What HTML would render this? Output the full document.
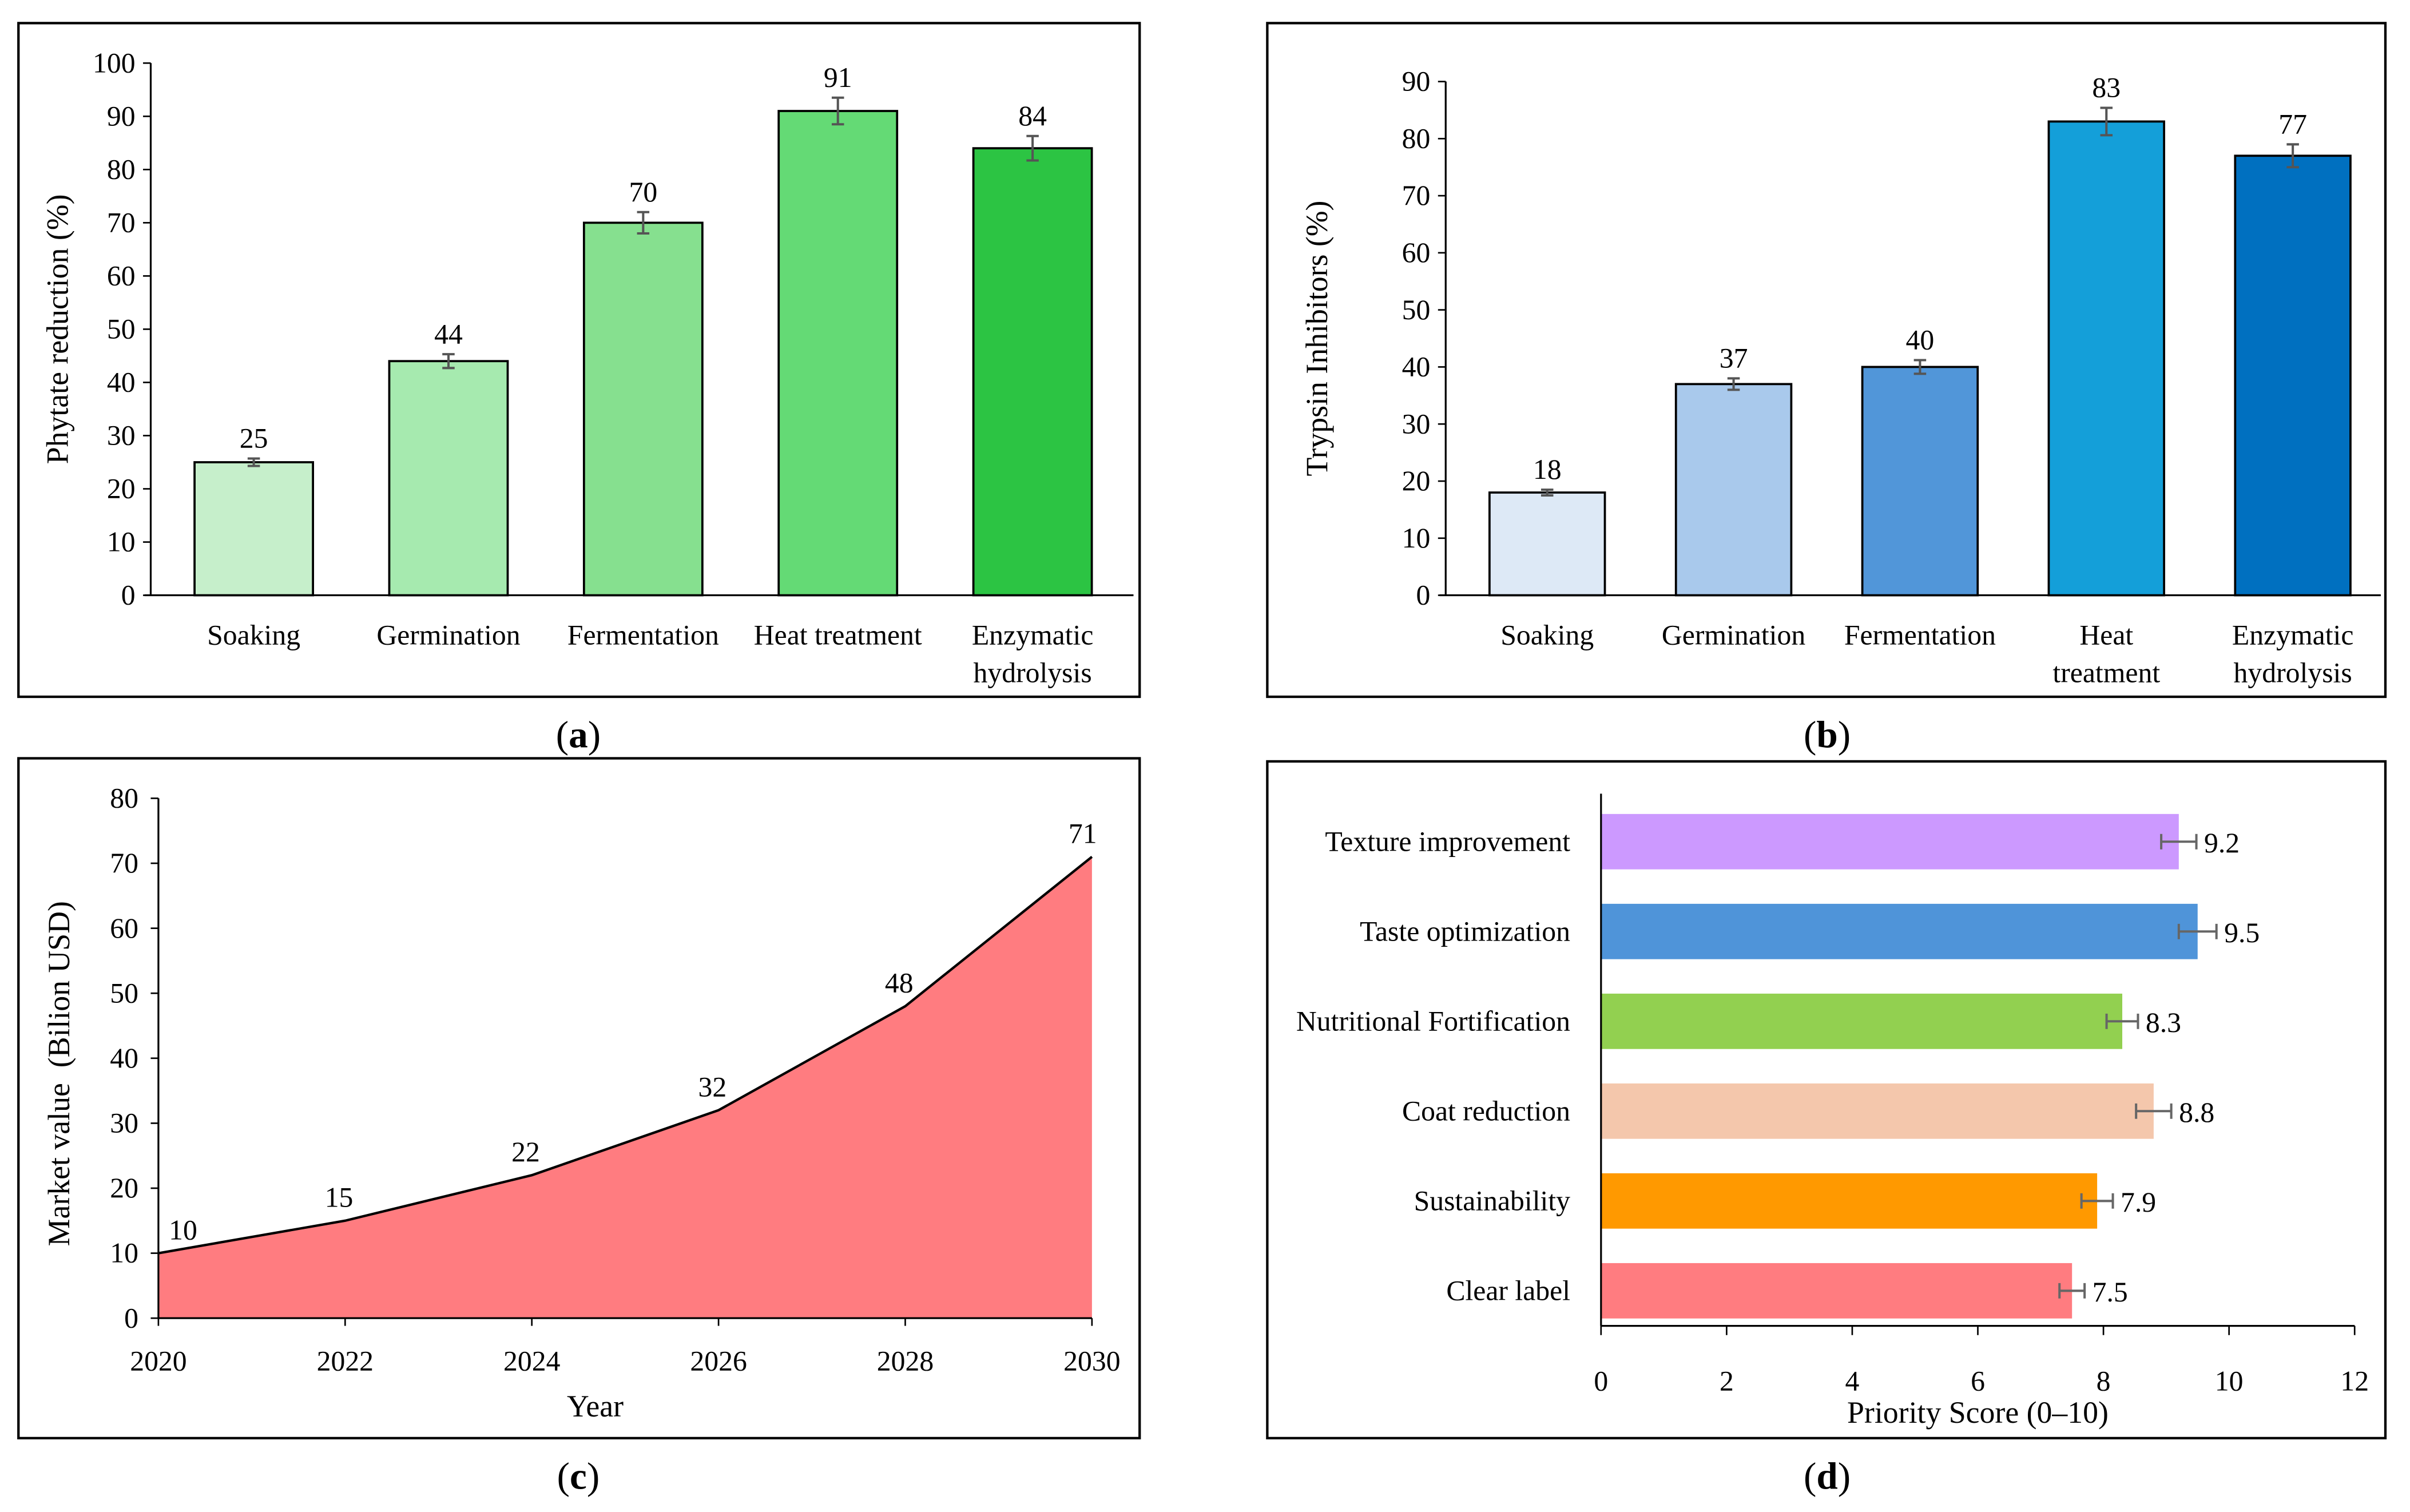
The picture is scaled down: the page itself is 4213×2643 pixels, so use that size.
<!DOCTYPE html>
<html><head><meta charset="utf-8">
<style>
html,body{margin:0;padding:0;background:#fff;}
svg{display:block;}
text{font-family:"Liberation Serif",serif;fill:#000;}
</style></head>
<body>
<svg id="fig" xmlns="http://www.w3.org/2000/svg" width="4213" height="2643" viewBox="0 0 1567 983">
  <rect x="0" y="0" width="1567" height="983" fill="#fff"/>
  <g id="pa"></g>
  <g id="pb"></g>
  <g id="pc"></g>
  <g id="pd"></g>
</svg>
<script>
// Panel a data
const catsA = ["Soaking","Germination","Fermentation","Heat treatment","Enzymatic|hydrolysis"];
const valsA = [25,44,70,91,84];
const errA = [0.7,1.3,2,2.5,2.3];
const ticksA = [0,10,20,30,40,50,60,70,80,90,100];
// Panel b data
const catsB = ["Soaking","Germination","Fermentation","Heat|treatment","Enzymatic|hydrolysis"];
const valsB = [18,37,40,83,77];
const errB = [0.5,1,1.2,2.4,2];
const ticksB = [0,10,20,30,40,50,60,70,80,90];
// Panel c data
const yearsC = [2020,2022,2024,2026,2028,2030];
const valsC = [10,15,22,32,48,71];
const ticksC = [0,10,20,30,40,50,60,70,80];
// Panel d data
const catsD = ["Texture improvement","Taste optimization","Nutritional Fortification","Coat reduction","Sustainability","Clear label"];
const valsD = [9.2,9.5,8.3,8.8,7.9,7.5];
const errD = [0.28,0.3,0.25,0.28,0.25,0.2];
const ticksD = [0,2,4,6,8,10,12];

const FS=18.5, TS=20;
const NS="http://www.w3.org/2000/svg";
function mk(parent,tag,attrs,txt){const e=document.createElementNS(NS,tag);for(const k in attrs)e.setAttribute(k,attrs[k]);if(txt!==undefined)e.textContent=txt;parent.appendChild(e);return e;}

function frame(g,x,y,w,h,cap,cx,cy){
  const r=mk(g,'rect',{x:x,y:y,width:w,height:h,fill:'none',stroke:'#000','stroke-width':1.6});
  
  
  const t=mk(g,'text',{x:cx,y:cy,'font-size':25,'text-anchor':'middle'},'');
  
  
  mk(t,'tspan',{},'(');mk(t,'tspan',{'font-weight':'bold'},cap);mk(t,'tspan',{},')');
}

function barChart(g,o){
  const y=v=>o.y0-(v/o.ymax)*(o.y0-o.ytop);
  const axis=mk(g,'line',{x1:o.x0,y1:o.ytop,x2:o.x0,y2:o.y0,stroke:'#000','stroke-width':1.2});
  
  
  const xa=mk(g,'line',{x1:o.x0-4,y1:o.y0,x2:o.axisEnd,y2:o.y0,stroke:'#000','stroke-width':1.2});
  
  
  o.ticks.forEach(t=>{
    mk(g,'line',{x1:o.x0-5,y1:y(t),x2:o.x0,y2:y(t),stroke:'#000','stroke-width':1});
    const tl=mk(g,'text',{x:o.x0-10,y:y(t)+6,'font-size':FS,'text-anchor':'end'},t);
    
    
  });
  const bw=(o.x1-o.x0)/o.cats.length;
  o.vals.forEach((v,i)=>{
    const cx=o.x0+bw*(i+0.5)+o.shift;
    const b=mk(g,'rect',{x:cx-o.barW/2,y:y(v),width:o.barW,height:o.y0-y(v),fill:o.colors[i],stroke:'#000','stroke-width':1.4});
    
    
    const e=o.errs[i];
    const ep=mk(g,'path',{d:`M${cx} ${y(v+e)}V${y(v-e)}M${cx-4} ${y(v+e)}H${cx+4}M${cx-4} ${y(v-e)}H${cx+4}`,stroke:'#555','stroke-width':1.5,fill:'none'});
    
    
    const vl=mk(g,'text',{x:cx,y:y(v+e)-7,'font-size':FS,'text-anchor':'middle'},v);
    
    
    const lines=o.cats[i].split('|');
    lines.forEach((ln,j)=>{
      const cl=mk(g,'text',{x:cx,y:419+j*24.5,'font-size':FS,'text-anchor':'middle'},ln);
      
      
    });
  });
  const tt=mk(g,'text',{x:0,y:0,'font-size':TS,'text-anchor':'middle',transform:`translate(${o.titleX},${(o.ytop+o.y0)/2}) rotate(-90)`},o.title);
  
  
}

// Panel a
const ga=document.getElementById('pa');
frame(ga,12,15,729,438,'a',376,486);
barChart(ga,{cats:catsA,vals:valsA,errs:errA,ticks:ticksA,ymax:100,x0:98,x1:731,axisEnd:737,y0:387,ytop:41,barW:77,shift:3.7,
  colors:['#c6efcb','#a6eaaf','#86e08f','#64da75','#2cc443'],title:'Phytate reduction (%)',titleX:44});

// Panel b
const gb=document.getElementById('pb');
frame(gb,824,15,727,438,'b',1188,486);
barChart(gb,{cats:catsB,vals:valsB,errs:errB,ticks:ticksB,ymax:90,x0:940,x1:1546,axisEnd:1548,y0:387,ytop:53,barW:75,shift:5.4,
  colors:['#dde9f6','#a9c9ec','#5196d9','#149fd9','#0070c0'],title:'Trypsin Inhibitors (%)',titleX:863});

// Panel c
const gc=document.getElementById('pc');
frame(gc,12,493,729,442,'c',376,968);
(function(){
  const x0=103,x1=710,y0=857,ytop=519;
  const x=yr=>x0+(yr-yearsC[0])/(yearsC[yearsC.length-1]-yearsC[0])*(x1-x0);
  const y=v=>y0-(v/80)*(y0-ytop);
  let d=`M${x(yearsC[0])} ${y0}`;
  let ln='';
  yearsC.forEach((yr,i)=>{d+=`L${x(yr)} ${y(valsC[i])}`;ln+=(i?'L':'M')+x(yr)+' '+y(valsC[i]);});
  d+=`L${x(yearsC[yearsC.length-1])} ${y0}Z`;
  const a=mk(gc,'path',{d:d,fill:'#ff7c80'});
  
  
  const l=mk(gc,'path',{d:ln,fill:'none',stroke:'#000','stroke-width':1.6});
  
  
  const ya=mk(gc,'line',{x1:x0,y1:ytop,x2:x0,y2:y0,stroke:'#000','stroke-width':1.2});
  
  
  const xa=mk(gc,'line',{x1:x0,y1:y0,x2:x1,y2:y0,stroke:'#000','stroke-width':1.2});
  
  
  ticksC.forEach(t=>{
    mk(gc,'line',{x1:x0-5,y1:y(t),x2:x0,y2:y(t),stroke:'#000','stroke-width':1});
    const tl=mk(gc,'text',{x:x0-13,y:y(t)+6,'font-size':FS,'text-anchor':'end'},t);
    
    
  });
  yearsC.forEach((yr,i)=>{
    mk(gc,'line',{x1:x(yr),y1:y0,x2:x(yr),y2:y0+5,stroke:'#000','stroke-width':1});
    const tl=mk(gc,'text',{x:x(yr),y:y0+34,'font-size':FS,'text-anchor':'middle'},yr);
    
    
    const dx=(i===0)?16:(i===yearsC.length-1?-6:-4);
    const vl=mk(gc,'text',{x:x(yr)+dx,y:y(valsC[i])-9,'font-size':FS,'text-anchor':'middle'},valsC[i]);
    
    
  });
  const xt=mk(gc,'text',{x:387,y:921,'font-size':TS,'text-anchor':'middle'},'Year');
  
  
  const yt=mk(gc,'text',{x:0,y:0,'font-size':TS,'text-anchor':'middle',transform:`translate(45,${(ytop+y0)/2+10}) rotate(-90)`},'Market value\u00A0 (Bilion USD)');
  
  
})();

// Panel d
const gd=document.getElementById('pd');
frame(gd,824,495,727,440,'d',1188,968);
(function(){
  const x0=1041,x1=1531,y0=862,ytop=518;
  const x=v=>x0+(v/12)*(x1-x0);
  const band=58.4;
  const bh=36;
  valsD.forEach((v,i)=>{
    const cy=ytop+band*(i+0.5);
    const b=mk(gd,'rect',{x:x0,y:cy-bh/2,width:x(v)-x0,height:bh,fill:['#cc99ff','#4f94d9','#92d050','#f4c7ac','#ff9900','#ff7c80'][i]});
    
    
    const e=errD[i];
    const ep=mk(gd,'path',{d:`M${x(v-e)} ${cy}H${x(v+e)}M${x(v-e)} ${cy-5}V${cy+5}M${x(v+e)} ${cy-5}V${cy+5}`,stroke:'#666','stroke-width':1.5,fill:'none'});
    
    
    const vl=mk(gd,'text',{x:x(v+e)+5,y:cy+7,'font-size':FS},v.toFixed(1));
    
    
    const cl=mk(gd,'text',{x:1021,y:cy+6,'font-size':FS,'text-anchor':'end'},catsD[i]);
    
    
  });
  const ya=mk(gd,'line',{x1:x0,y1:ytop-2,x2:x0,y2:y0,stroke:'#000','stroke-width':1.2});
  
  
  const xa=mk(gd,'line',{x1:x0,y1:y0,x2:x1,y2:y0,stroke:'#000','stroke-width':1.2});
  
  
  ticksD.forEach(t=>{
    mk(gd,'line',{x1:x(t),y1:y0,x2:x(t),y2:y0+6,stroke:'#000','stroke-width':1});
    const tl=mk(gd,'text',{x:x(t),y:y0+42,'font-size':FS,'text-anchor':'middle'},t);
    
    
  });
  const xt=mk(gd,'text',{x:1286,y:925,'font-size':TS,'text-anchor':'middle'},'Priority Score (0–10)');
  
  
})();
</script>
</body></html>
